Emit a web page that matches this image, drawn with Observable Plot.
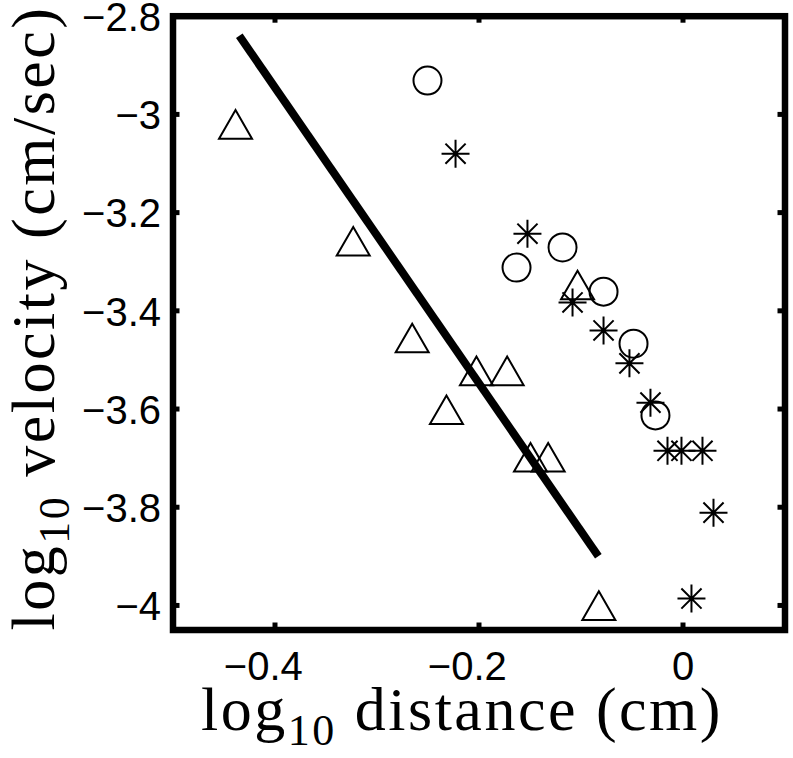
<!DOCTYPE html>
<html>
<head>
<meta charset="utf-8">
<script src="https://cdn.jsdelivr.net/npm/d3@7"></script>
<script src="https://cdn.jsdelivr.net/npm/@observablehq/plot@0.6"></script>
<style>
  html, body { margin: 0; padding: 0; background: #fff; }
</style>
</head>
<body>
<div id="chart"></div>
<script>
// ---- data ----
const xTicks = [-0.4, -0.2, 0];
const xTickLabels = ["\u22120.4", "\u22120.2", "0"];
const yTicks = [-4, -3.8, -3.6, -3.4, -3.2, -3, -2.8];
const yTickLabels = ["\u22124", "\u22123.8", "\u22123.6", "\u22123.4", "\u22123.2", "\u22123", "\u22122.8"];

const triX = [-0.4387, -0.3233, -0.2655, -0.2025, -0.1724, -0.2319, -0.1495, -0.1322, -0.0825, -0.1034];
const triY = [-3.030, -3.268, -3.465, -3.532, -3.532, -3.611, -3.708, -3.708, -4.010, -3.357];

const circX = [-0.2505, -0.1632, -0.1181, -0.0779, -0.0485, -0.0270];
const circY = [-2.931, -3.312, -3.271, -3.361, -3.467, -3.613];

const astX = [-0.2230, -0.1525, -0.1083, -0.0779, -0.0525, -0.0319, -0.0152, -0.0015, 0.0191, 0.0299, 0.0083];
const astY = [-3.080, -3.243, -3.383, -3.440, -3.507, -3.587, -3.685, -3.685, -3.685, -3.811, -3.986];

const fitX = [-0.435, -0.083];
const fitY = [-2.84, -3.90];

const labelLog = "log";
const labelSub = "10";
const xLabelRest = "\u00a0distance (cm)";
const yLabelRest = "\u00a0velocity (cm/sec)";

// ---- tables built from the arrays ----
const tri = triX.map((x, i) => ({x, y: triY[i]}));
const circ = circX.map((x, i) => ({x, y: circY[i]}));
const ast = astX.map((x, i) => ({x, y: astY[i]}));
const fit = fitX.map((x, i) => ({x, y: fitY[i]}));

// MATLAB-style 8-spoke asterisk
const asterisk8 = {
  draw(context, size) {
    const r = Math.sqrt(size / Math.PI);
    const d = r * 0.72;
    context.moveTo(-r, 0); context.lineTo(r, 0);
    context.moveTo(0, -r); context.lineTo(0, r);
    context.moveTo(-d, -d); context.lineTo(d, d);
    context.moveTo(-d, d); context.lineTo(d, -d);
  }
};

const W = 793, H = 758;
const mL = 172.5, mR = 8.5, mT = 15.7, mB = 128.5;
const innerW = W - mL - mR, innerH = H - mT - mB;
const tickLen = 7;
const sans = "Liberation Sans";
const tickFont = 40;
const fmtX = (d) => xTickLabels[xTicks.indexOf(d)];
const negXTicks = xTicks.filter((d) => d < 0);
const posXTicks = xTicks.filter((d) => d >= 0);

const plot = Plot.plot({
  width: W,
  height: H,
  marginLeft: mL,
  marginRight: mR,
  marginTop: mT,
  marginBottom: mB,
  x: {domain: [-0.5, 0.1]},
  y: {domain: [-4.05, -2.8]},
  style: {background: "white", color: "black", overflow: "visible"},
  marks: [
    // x tick labels: the number is centred on the tick, the minus sign hangs left
    Plot.axisX(negXTicks, {anchor: "bottom", tickSize: 0, tickPadding: 22, fontSize: tickFont,
      fontFamily: sans, label: null, dx: -0.292 * tickFont, tickFormat: fmtX}),
    Plot.axisX(posXTicks, {anchor: "bottom", tickSize: 0, tickPadding: 22, fontSize: tickFont,
      fontFamily: sans, label: null, tickFormat: fmtX}),
    Plot.axisY(yTicks, {anchor: "left", tickSize: 0, tickPadding: 12, fontSize: tickFont,
      fontFamily: sans, label: null, dy: 2,
      tickFormat: (d) => yTickLabels[yTicks.indexOf(d)]}),
    // inward tick stubs
    Plot.tickX(xTicks, {x: (d) => d, stroke: "black", strokeWidth: 5, insetTop: innerH - tickLen}),
    Plot.tickX(xTicks, {x: (d) => d, stroke: "black", strokeWidth: 5, insetBottom: innerH - tickLen}),
    Plot.tickY(yTicks, {y: (d) => d, stroke: "black", strokeWidth: 5, insetRight: innerW - tickLen}),
    Plot.tickY(yTicks, {y: (d) => d, stroke: "black", strokeWidth: 5, insetLeft: innerW - tickLen}),
    // fitted line
    Plot.line(fit, {x: "x", y: "y", stroke: "black", strokeWidth: 8, strokeLinecap: "butt"}),
    // markers
    Plot.dot(tri, {x: "x", y: "y", symbol: "triangle", r: 12.25, stroke: "black", fill: "none", strokeWidth: 2}),
    Plot.dot(circ, {x: "x", y: "y", symbol: "circle", r: 14, stroke: "black", fill: "none", strokeWidth: 2}),
    Plot.dot(ast, {x: "x", y: "y", symbol: asterisk8, r: 14, stroke: "black", fill: "none", strokeWidth: 2}),
    // box
    Plot.frame({stroke: "black", strokeWidth: 6.5})
  ]
});

document.getElementById("chart").appendChild(plot);

// axis titles with subscripts
const svg = d3.select(plot);
const serif = "Liberation Serif";

const xl = svg.append("text")
  .attr("x", 462).attr("y", 730)
  .attr("text-anchor", "middle")
  .style("font-family", serif).style("font-size", "62px")
  .style("letter-spacing", "2.5px")
  .attr("fill", "black");
xl.append("tspan").text(labelLog);
xl.append("tspan").style("font-size", "44px").attr("dy", 15).text(labelSub);
xl.append("tspan").attr("dy", -15).text(xLabelRest);

const yl = svg.append("text")
  .attr("transform", "translate(54,318) rotate(-90)")
  .attr("text-anchor", "middle")
  .style("font-family", serif).style("font-size", "62px")
  .style("letter-spacing", "2.5px")
  .attr("fill", "black");
yl.append("tspan").text(labelLog);
yl.append("tspan").style("font-size", "44px").attr("dy", 15).text(labelSub);
yl.append("tspan").attr("dy", -15).text(yLabelRest);
</script>
</body>
</html>
